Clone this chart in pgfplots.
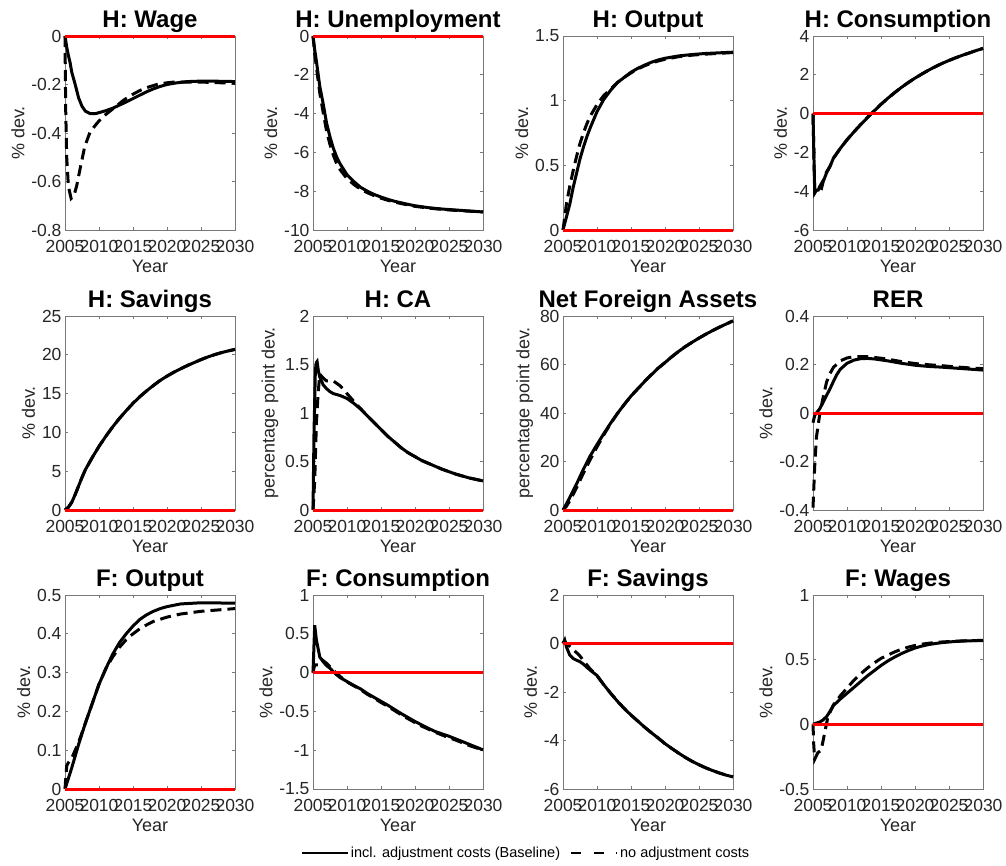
\documentclass[border=0pt]{standalone}
\usepackage{pgfplots}
\pgfplotsset{compat=1.18}
\usepackage{fontspec}
\setmainfont{Liberation Sans}
\definecolor{axgray}{RGB}{120,120,120}
\definecolor{txtgray}{RGB}{38,38,38}
\pgfplotsset{
 mat/.style={
  scale only axis, width=170pt, height=194pt, anchor=north west,
  xmin=2005, xmax=2030, xtick={2005,2010,2015,2020,2025,2030},
  x tick label style={/pgf/number format/1000 sep={}, yshift=-7pt},
  /pgf/number format/assume math mode=true,
  axis line style={axgray, line width=0.7pt},
  tick style={axgray, line width=0.7pt},
  major tick length=3pt,
  tick align=inside,
  ticklabel style={font=\fontsize{17.5}{20}\selectfont, text=txtgray},
  label style={font=\fontsize{18}{21}\selectfont, text=txtgray},
  every axis title shift=0pt,
  title style={font=\bfseries\fontsize{24}{28}\selectfont, anchor=base, yshift=9pt},
  xlabel={Year}, ylabel={\% dev.},
  every axis plot/.append style={line width=3pt},
  clip=false,
 },
 sol/.style={black, solid, line width=3pt},
 das/.style={black, line width=3pt, dash pattern=on 11pt off 6pt},
 zer/.style={red, line width=3pt, forget plot},
}
\begin{document}
\begin{tikzpicture}
\useasboundingbox (0pt,0pt) rectangle (1006pt,-865pt);
% ---------- Row 1 ----------
\begin{axis}[mat, at={(65pt,-36pt)}, title={H: Wage}, ymin=-0.8, ymax=0, ytick={-0.8,-0.6,-0.4,-0.2,0}]
\addplot[sol] coordinates {(2005,0)(2005.25,-0.045)(2005.5,-0.08)(2005.75,-0.11)(2006,-0.15)(2006.5,-0.2)(2007,-0.255)(2007.5,-0.29)(2008,-0.31)(2008.7,-0.32)(2009.5,-0.32)(2010,-0.316)(2011,-0.308)(2012,-0.298)(2013,-0.285)(2014,-0.272)(2015,-0.258)(2016,-0.244)(2017,-0.23)(2018,-0.218)(2019,-0.208)(2020,-0.2)(2021,-0.195)(2022,-0.191)(2023,-0.188)(2024,-0.187)(2025,-0.186)(2026,-0.186)(2027,-0.186)(2028,-0.187)(2029,-0.187)(2030,-0.188)};
\addplot[das] coordinates {(2005,0)(2005.1,-0.3)(2005.25,-0.5)(2005.5,-0.62)(2005.9,-0.67)(2006.3,-0.66)(2006.7,-0.62)(2007.2,-0.55)(2007.9,-0.456)(2008.7,-0.395)(2009.7,-0.36)(2010.5,-0.335)(2011.6,-0.31)(2012.5,-0.29)(2013.6,-0.265)(2015,-0.24)(2016,-0.225)(2017,-0.213)(2018.5,-0.2)(2020,-0.193)(2021,-0.19)(2023,-0.19)(2025,-0.19)(2027,-0.192)(2030,-0.195)};
\addplot[zer] coordinates {(2005,0)(2030,0)};
\end{axis}
\begin{axis}[mat, at={(313pt,-36pt)}, title={H: Unemployment}, ymin=-10, ymax=0, ytick={-10,-8,-6,-4,-2,0}]
\addplot[sol] coordinates {(2005,0)(2005.25,-0.7)(2005.5,-1.3)(2006,-2.6)(2006.5,-3.5)(2007,-4.5)(2007.5,-5.2)(2008,-5.8)(2008.5,-6.25)(2009,-6.6)(2010,-7.15)(2011,-7.5)(2012,-7.8)(2013,-8.0)(2014,-8.17)(2015,-8.3)(2016,-8.42)(2017,-8.52)(2018,-8.6)(2019,-8.68)(2020,-8.75)(2022,-8.85)(2024,-8.92)(2026,-8.97)(2028,-9.02)(2030,-9.07)};
\addplot[das] coordinates {(2005,0)(2005.25,-0.9)(2005.5,-1.6)(2006,-2.95)(2006.5,-3.95)(2007,-4.9)(2007.5,-5.6)(2008,-6.15)(2008.5,-6.6)(2009,-6.9)(2010,-7.35)(2011,-7.65)(2012,-7.9)(2013,-8.08)(2014,-8.23)(2015,-8.36)(2016,-8.47)(2017,-8.56)(2018,-8.64)(2019,-8.71)(2020,-8.78)(2022,-8.87)(2024,-8.94)(2026,-8.99)(2028,-9.03)(2030,-9.07)};
\addplot[zer] coordinates {(2005,0)(2030,0)};
\end{axis}
\begin{axis}[mat, at={(563pt,-36pt)}, title={H: Output}, ymin=0, ymax=1.5, ytick={0,0.5,1,1.5}]
\addplot[sol] coordinates {(2005,0)(2005.5,0.1)(2006,0.2)(2006.5,0.33)(2007,0.44)(2007.5,0.55)(2008,0.64)(2008.5,0.72)(2009,0.79)(2010,0.915)(2011,1.01)(2012,1.08)(2013,1.14)(2014,1.18)(2015,1.22)(2016,1.25)(2017,1.275)(2018,1.297)(2019,1.315)(2020,1.328)(2022,1.346)(2024,1.357)(2026,1.365)(2028,1.37)(2030,1.375)};
\addplot[das] coordinates {(2005,0)(2005.25,0.1)(2005.5,0.2)(2006,0.34)(2006.5,0.46)(2007,0.57)(2007.5,0.67)(2008,0.75)(2008.5,0.82)(2009,0.88)(2010,0.97)(2011,1.04)(2012,1.09)(2013,1.14)(2014,1.18)(2015,1.215)(2016,1.245)(2017,1.27)(2018,1.29)(2019,1.307)(2020,1.32)(2022,1.34)(2024,1.352)(2026,1.36)(2028,1.366)(2030,1.372)};
\addplot[zer] coordinates {(2005,0)(2030,0)};
\end{axis}
\begin{axis}[mat, at={(813pt,-36pt)}, title={H: Consumption}, ymin=-6, ymax=4, ytick={-6,-4,-2,0,2,4}]
\addplot[das] coordinates {(2005,0)(2005.25,-4.0)(2005.5,-3.85)(2005.75,-3.95)(2006,-3.75)(2006.5,-3.45)(2007,-3.0)(2007.5,-2.72)(2008,-2.3)(2009,-1.8)(2010,-1.35)(2011,-0.95)(2012,-0.57)(2013,-0.21)(2014,0.14)(2015,0.48)(2016,0.79)(2017,1.08)(2018,1.35)(2019,1.6)(2020,1.83)(2021,2.04)(2022,2.24)(2023,2.42)(2024,2.59)(2025,2.74)(2026,2.88)(2027,3.01)(2028,3.13)(2029,3.25)(2030,3.36)};
\addplot[sol] coordinates {(2005,0)(2005.25,-4.1)(2005.5,-3.95)(2005.75,-3.95)(2006,-3.8)(2006.25,-3.85)(2006.5,-3.5)(2007,-3.05)(2007.5,-2.72)(2008,-2.3)(2009,-1.8)(2010,-1.35)(2011,-0.95)(2012,-0.57)(2013,-0.21)(2014,0.14)(2015,0.48)(2016,0.79)(2017,1.08)(2018,1.35)(2019,1.6)(2020,1.83)(2021,2.04)(2022,2.24)(2023,2.42)(2024,2.59)(2025,2.74)(2026,2.88)(2027,3.01)(2028,3.13)(2029,3.25)(2030,3.36)};
\addplot[zer] coordinates {(2005,0)(2030,0)};
\end{axis}
% ---------- Row 2 ----------
\begin{axis}[mat, at={(65pt,-316pt)}, title={H: Savings}, ymin=0, ymax=25, ytick={0,5,10,15,20,25}]
\addplot[das] coordinates {(2005,0)(2005.5,0.35)(2006,1.0)(2006.5,2.0)(2007,3.1)(2007.5,4.2)(2008,5.2)(2009,6.75)(2010,8.2)(2011,9.5)(2012,10.7)(2013,11.8)(2014,12.8)(2015,13.75)(2016,14.6)(2017,15.35)(2018,16.05)(2019,16.7)(2020,17.25)(2021,17.75)(2022,18.2)(2023,18.62)(2024,19.0)(2025,19.38)(2026,19.72)(2027,20.02)(2028,20.28)(2029,20.5)(2030,20.7)};
\addplot[sol] coordinates {(2005,0)(2005.5,0.35)(2006,1.0)(2006.5,2.0)(2007,3.1)(2007.5,4.2)(2008,5.2)(2009,6.75)(2010,8.2)(2011,9.5)(2012,10.7)(2013,11.8)(2014,12.8)(2015,13.75)(2016,14.6)(2017,15.35)(2018,16.05)(2019,16.7)(2020,17.25)(2021,17.75)(2022,18.2)(2023,18.62)(2024,19.0)(2025,19.38)(2026,19.72)(2027,20.02)(2028,20.28)(2029,20.5)(2030,20.7)};
\addplot[zer] coordinates {(2005,0)(2030,0)};
\end{axis}
\begin{axis}[mat, at={(313pt,-316pt)}, title={H: CA}, ylabel={percentage point dev.}, ymin=0, ymax=2, ytick={0,0.5,1,1.5,2}]
\addplot[sol] coordinates {(2005,0)(2005.15,0.8)(2005.35,1.45)(2005.5,1.52)(2005.6,1.53)(2005.8,1.43)(2006,1.37)(2006.5,1.29)(2007,1.25)(2007.5,1.22)(2008,1.2)(2009,1.18)(2010,1.15)(2011,1.1)(2012,1.04)(2013,0.97)(2014,0.9)(2015,0.83)(2016,0.76)(2017,0.7)(2018,0.64)(2019,0.59)(2020,0.55)(2021,0.51)(2022,0.48)(2023,0.45)(2024,0.42)(2025,0.395)(2026,0.37)(2027,0.35)(2028,0.33)(2029,0.315)(2030,0.3)};
\addplot[das] coordinates {(2005,0)(2005.25,0.3)(2005.5,0.9)(2005.75,1.2)(2006,1.4)(2006.5,1.36)(2007,1.33)(2008,1.33)(2009,1.28)(2010,1.2)(2011,1.12)(2012,1.045)(2013,0.97)(2014,0.9)(2015,0.83)(2016,0.76)(2017,0.7)(2018,0.64)(2019,0.59)(2020,0.55)(2021,0.51)(2022,0.48)(2023,0.45)(2024,0.42)(2025,0.395)(2026,0.37)(2027,0.35)(2028,0.33)(2029,0.315)(2030,0.3)};
\addplot[zer] coordinates {(2005,0)(2030,0)};
\end{axis}
\begin{axis}[mat, at={(563pt,-316pt)}, title={Net Foreign Assets}, ylabel={percentage point dev.}, ymin=0, ymax=80, ytick={0,20,40,60,80}]
\addplot[sol] coordinates {(2005,0)(2005.5,2.5)(2006,5.2)(2007,10.8)(2008,16.8)(2009,22.3)(2010,27)(2011,31.5)(2012,35.8)(2013,39.8)(2014,43.5)(2015,47)(2016,50)(2017,53)(2018,55.8)(2019,58.5)(2020,60.8)(2021,63.2)(2022,65.4)(2023,67.4)(2024,69.2)(2025,70.9)(2026,72.5)(2027,74.0)(2028,75.4)(2029,76.7)(2030,78.0)};
\addplot[das] coordinates {(2005,0)(2005.5,1.5)(2006,3.8)(2007,9.2)(2008,15.2)(2009,20.8)(2010,26)(2011,31)(2012,35.6)(2013,39.8)(2014,43.5)(2015,47)(2016,50)(2017,53)(2018,55.8)(2019,58.5)(2020,60.8)(2021,63.2)(2022,65.4)(2023,67.4)(2024,69.2)(2025,70.9)(2026,72.5)(2027,74.0)(2028,75.4)(2029,76.7)(2030,78.0)};
\addplot[zer] coordinates {(2005,0)(2030,0)};
\end{axis}
\begin{axis}[mat, at={(813pt,-316pt)}, title={RER}, ymin=-0.4, ymax=0.4, ytick={-0.4,-0.2,0,0.2,0.4}]
\addplot[sol] coordinates {(2005,-0.04)(2005.25,-0.01)(2005.5,0)(2006,0.018)(2006.5,0.045)(2007,0.073)(2007.5,0.1)(2008,0.13)(2008.5,0.158)(2009,0.18)(2010,0.205)(2011,0.218)(2012,0.224)(2013,0.225)(2014,0.223)(2015,0.219)(2016,0.215)(2017,0.21)(2018,0.205)(2019,0.201)(2020,0.197)(2022,0.192)(2024,0.189)(2026,0.185)(2028,0.181)(2030,0.177)};
\addplot[das] coordinates {(2005,-0.39)(2005.25,-0.22)(2005.5,-0.1)(2006,-0.003)(2006.5,0.066)(2007,0.128)(2007.5,0.163)(2008,0.188)(2009,0.215)(2010,0.227)(2011,0.232)(2012,0.233)(2013,0.232)(2014,0.229)(2015,0.226)(2016,0.222)(2017,0.217)(2018,0.212)(2019,0.208)(2020,0.204)(2022,0.199)(2024,0.195)(2026,0.19)(2028,0.186)(2030,0.183)};
\addplot[zer] coordinates {(2005,0)(2030,0)};
\end{axis}
% ---------- Row 3 ----------
\begin{axis}[mat, at={(65pt,-595pt)}, title={F: Output}, ymin=0, ymax=0.5, ytick={0,0.1,0.2,0.3,0.4,0.5}]
\addplot[sol] coordinates {(2005,0)(2006,0.055)(2007,0.115)(2008,0.17)(2009,0.22)(2010,0.27)(2011,0.31)(2012,0.347)(2013,0.377)(2014,0.40)(2015,0.42)(2016,0.437)(2017,0.449)(2018,0.458)(2019,0.465)(2020,0.47)(2022,0.477)(2025,0.48)(2030,0.479)};
\addplot[das] coordinates {(2005,0)(2005.25,0.06)(2005.5,0.068)(2006,0.08)(2007,0.12)(2008,0.17)(2009,0.22)(2010,0.27)(2011,0.31)(2012,0.34)(2013,0.365)(2014,0.385)(2015,0.40)(2016,0.413)(2017,0.423)(2018,0.432)(2020,0.443)(2022,0.451)(2025,0.458)(2030,0.465)};
\addplot[zer] coordinates {(2005,0)(2030,0)};
\end{axis}
\begin{axis}[mat, at={(313pt,-595pt)}, title={F: Consumption}, ymin=-1.5, ymax=1, ytick={-1.5,-1,-0.5,0,0.5,1},
  legend style={at={(1.253,-0.33)}, anchor=center, draw=none, fill=none, legend columns=2, font=\fontsize{14.5}{17}\selectfont, nodes={inner xsep=2pt}, /tikz/every even column/.append style={column sep=8pt}},
  legend image code/.code={\draw[#1] (0pt,0pt) -- (46pt,0pt);}]
\addlegendimage{black, line width=2pt}
\addlegendentry{incl. adjustment costs (Baseline)}
\addlegendimage{black, line width=2pt, dash pattern=on 10pt off 13pt on 10pt off 12pt on 1.5pt off 20pt}
\addlegendentry{no adjustment costs}
\addplot[sol] coordinates {(2005,0)(2005.25,0.61)(2005.5,0.42)(2006,0.2)(2006.5,0.14)(2007,0.09)(2007.5,0.056)(2008,0.01)(2008.5,-0.03)(2009,-0.065)(2010,-0.115)(2011,-0.165)(2012,-0.21)(2013,-0.27)(2014,-0.32)(2015,-0.37)(2016,-0.42)(2017,-0.475)(2018,-0.53)(2019,-0.58)(2020,-0.63)(2021,-0.675)(2022,-0.72)(2023,-0.76)(2024,-0.79)(2025,-0.82)(2026,-0.855)(2027,-0.89)(2028,-0.925)(2029,-0.96)(2030,-0.996)};
\addplot[das] coordinates {(2005,0)(2005.25,0.1)(2005.75,0.1)(2006.4,0.16)(2007,0.12)(2008,0.03)(2009,-0.05)(2010,-0.12)(2011,-0.17)(2012,-0.22)(2013,-0.28)(2014,-0.33)(2015,-0.385)(2016,-0.435)(2017,-0.49)(2018,-0.545)(2019,-0.595)(2020,-0.645)(2021,-0.69)(2022,-0.73)(2023,-0.77)(2024,-0.805)(2025,-0.84)(2026,-0.87)(2027,-0.905)(2028,-0.94)(2029,-0.97)(2030,-1.0)};
\addplot[zer] coordinates {(2005,0)(2030,0)};
\end{axis}
\begin{axis}[mat, at={(563pt,-595pt)}, title={F: Savings}, ymin=-6, ymax=2, ytick={-6,-4,-2,0,2}]
\addplot[sol] coordinates {(2005,0)(2005.25,0.14)(2005.5,-0.14)(2006,-0.48)(2006.5,-0.62)(2007,-0.69)(2007.5,-0.75)(2008,-0.85)(2008.5,-0.98)(2009,-1.1)(2010,-1.32)(2011,-1.7)(2012,-2.05)(2013,-2.38)(2014,-2.68)(2015,-2.95)(2016,-3.2)(2017,-3.45)(2018,-3.68)(2019,-3.9)(2020,-4.13)(2021,-4.33)(2022,-4.52)(2023,-4.7)(2024,-4.86)(2025,-5.0)(2026,-5.13)(2027,-5.24)(2028,-5.34)(2029,-5.43)(2030,-5.5)};
\addplot[das] coordinates {(2005,0)(2005.25,0.1)(2005.5,0.0)(2006,-0.12)(2006.5,-0.25)(2007,-0.38)(2007.5,-0.52)(2008,-0.7)(2008.5,-0.88)(2009,-1.05)(2010,-1.33)(2011,-1.7)(2012,-2.05)(2013,-2.38)(2014,-2.68)(2015,-2.95)(2016,-3.2)(2017,-3.45)(2018,-3.68)(2019,-3.9)(2020,-4.13)(2021,-4.33)(2022,-4.52)(2023,-4.7)(2024,-4.86)(2025,-5.0)(2026,-5.13)(2027,-5.24)(2028,-5.34)(2029,-5.43)(2030,-5.5)};
\addplot[zer] coordinates {(2005,0)(2030,0)};
\end{axis}
\begin{axis}[mat, at={(813pt,-595pt)}, title={F: Wages}, ymin=-0.5, ymax=1, ytick={-0.5,0,0.5,1}]
\addplot[sol] coordinates {(2005,0)(2005.5,0.01)(2006,0.018)(2006.5,0.035)(2007,0.06)(2007.5,0.1)(2008,0.145)(2009,0.195)(2010,0.24)(2011,0.285)(2012,0.33)(2013,0.375)(2014,0.415)(2015,0.455)(2016,0.49)(2017,0.52)(2018,0.547)(2019,0.57)(2020,0.59)(2021,0.605)(2022,0.617)(2023,0.625)(2024,0.632)(2025,0.637)(2026,0.641)(2027,0.644)(2028,0.646)(2029,0.647)(2030,0.648)};
\addplot[das] coordinates {(2005,0)(2005.1,-0.15)(2005.25,-0.27)(2005.7,-0.22)(2006.2,-0.2)(2006.7,-0.07)(2007.2,0.06)(2008,0.15)(2009,0.22)(2010,0.28)(2011,0.34)(2012,0.39)(2013,0.435)(2014,0.475)(2015,0.51)(2016,0.535)(2017,0.56)(2018,0.58)(2019,0.597)(2020,0.61)(2021,0.62)(2022,0.627)(2023,0.633)(2024,0.637)(2025,0.64)(2026,0.643)(2027,0.645)(2028,0.647)(2029,0.648)(2030,0.65)};
\addplot[zer] coordinates {(2005,0)(2030,0)};
\end{axis}
\end{tikzpicture}
\end{document}
